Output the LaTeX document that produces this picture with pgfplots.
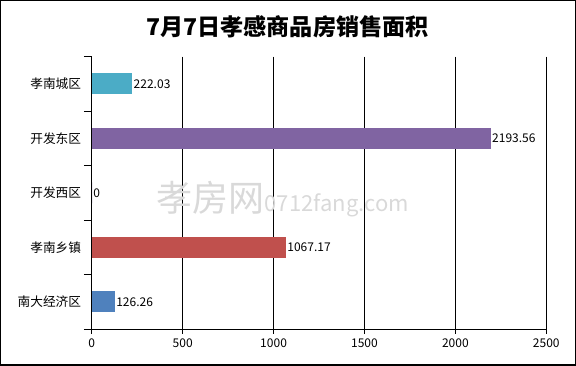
\documentclass[border=0pt]{standalone}
\usepackage{fontspec}
\setmainfont{Noto Sans CJK SC}
\usepackage{pgfplots}
\pgfplotsset{compat=1.18}
\definecolor{cteal}{HTML}{4BACC6}
\definecolor{cpurple}{HTML}{8064A2}
\definecolor{cred}{HTML}{C0504D}
\definecolor{cblue}{HTML}{4F81BD}
\begin{document}
\begin{tikzpicture}[x=1pt,y=1pt]
\draw[line width=1pt] (0.75,0.75) rectangle (431.25,273.75);
\node[font=\fontsize{17.3}{19}\selectfont\bfseries] at (215.6,254) {7月7日孝感商品房销售面积};
\begin{axis}[
  at={(69pt,27.75pt)}, anchor=south west,
  scale only axis, width=340.5pt, height=204pt,
  xmin=0, xmax=2500, xtick={0,500,...,2500},
  ymin=-0.5, ymax=4.5, y dir=reverse,
  ytick={0,1,2,3,4},
  yticklabels={孝南城区,开发东区,开发西区,孝南乡镇,南大经济区},
  minor ytick={-0.5,0.5,1.5,2.5,3.5,4.5},
  axis lines*=left,
  axis line style={black, line width=0.6pt},
  xmajorgrids, major grid style={black, line width=0.6pt},
  tick align=outside,
  major tick length=3.5pt, minor tick length=6pt,
  major y tick style={draw=none},
  minor y tick style={black, line width=0.6pt},
  major x tick style={black, line width=0.6pt},
  ticklabel style={font=\fontsize{9}{10}\selectfont},
  yticklabel style={xshift=-1pt, font=\fontsize{9.5}{11}\selectfont},
  /pgf/number format/assume math mode=true,
  /pgf/number format/1000 sep={},
  xbar, bar width=15.75pt, bar shift=0pt,
  point meta=explicit symbolic,
  nodes near coords={\pgfplotspointmeta},
  every node near coord/.append style={font=\fontsize{9}{10}\selectfont, anchor=west, black, inner sep=1pt},
  clip=false,
]
\node[text=gray!30, anchor=center] at (axis cs:1050,2.12) {{\fontsize{27}{27}\selectfont 孝房网}{\fontsize{16.5}{17}\selectfont 0712fang.com}};
\addplot[fill=cteal, draw=none] coordinates {(222.03,0) [222.03]};
\addplot[fill=cpurple, draw=none] coordinates {(2193.56,1) [2193.56]};
\addplot[fill=cpurple, draw=none] coordinates {(0,2) [0]};
\addplot[fill=cred, draw=none] coordinates {(1067.17,3) [1067.17]};
\addplot[fill=cblue, draw=none] coordinates {(126.26,4) [126.26]};
\end{axis}
\end{tikzpicture}
\end{document}
